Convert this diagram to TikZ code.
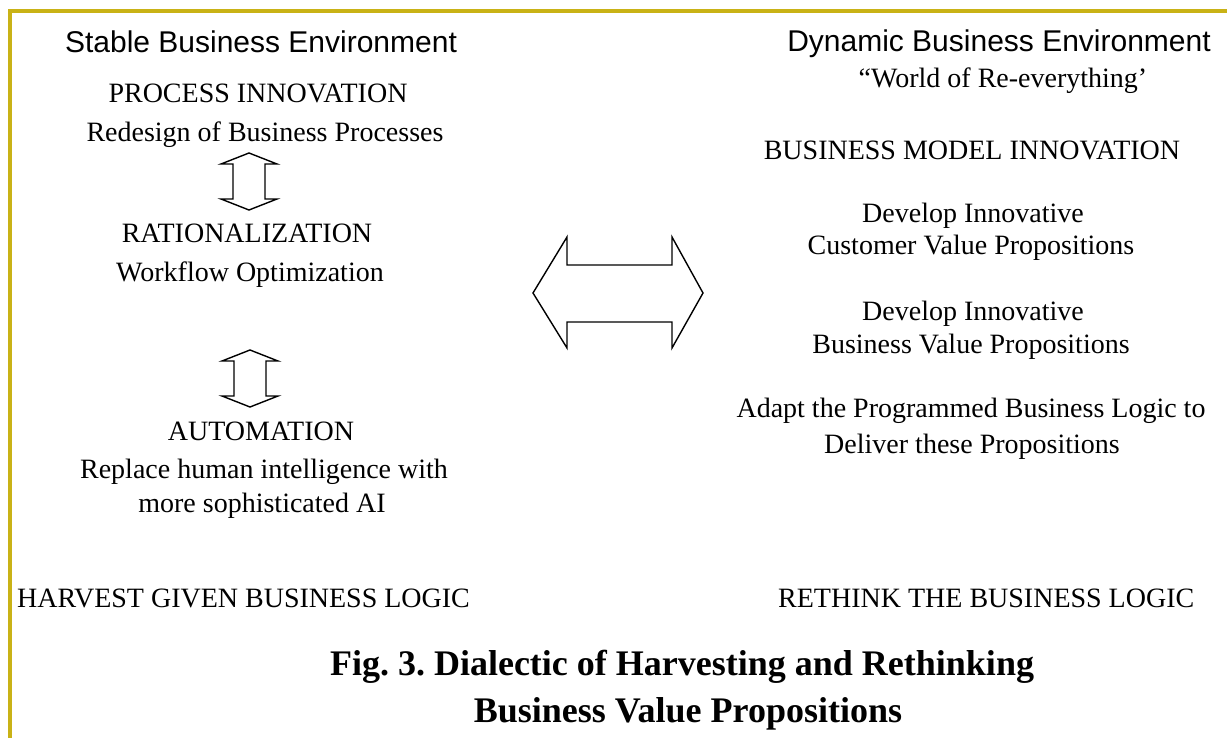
\documentclass[tikz,border=0pt]{standalone}
\usepackage{fontspec}
\setmainfont{Liberation Serif}
\newfontfamily\envfont{Liberation Sans}
\frenchspacing

\definecolor{framegold}{RGB}{201,178,22}

\begin{document}
\begin{tikzpicture}[x=1pt,y=-1pt,line join=miter,font=\fontsize{28}{32}\selectfont,
	every node/.style={inner sep=0pt,anchor=base},
	envtxt/.style={font=\envfont\fontsize{30}{34}\selectfont},
	captxt/.style={font=\bfseries\fontsize{36}{40}\selectfont},
	blockarrow/.style={draw,line width=1.4pt}]
	\useasboundingbox (0,0) rectangle (1227,738);
	\draw[framegold,line width=3.5pt] (10,738) -- (10,11) -- (1227,11);
	% left column
	\node[envtxt] (stable) at (261,53) {Stable Business Environment};
	\node (procinn) at (258,103) {PROCESS INNOVATION};
	\node (redesign) at (265,142) {Redesign of Business Processes};
	\node (ration) at (247,243) {RATIONALIZATION};
	\node (workflow) at (250,282) {Workflow Optimization};
	\node (autom) at (261,440) {AUTOMATION};
	\node (replace) at (264,478) {Replace human intelligence with};
	\node (moreai) at (262,512) {more sophisticated AI};
	\node[anchor=base west] (harvest) at (17,607) {HARVEST GIVEN BUSINESS LOGIC};
	% right column
	\node[envtxt] (dynamic) at (999,52) {Dynamic Business Environment};
	\node (world) at (1003,88) {“World of Re-everything’};
	\node (bmi) at (972,160) {BUSINESS MODEL INNOVATION};
	\node (dev1) at (973,223) {Develop Innovative};
	\node (custvp) at (971,255) {Customer Value Propositions};
	\node (dev2) at (973,320) {Develop Innovative};
	\node (busvp) at (971,353) {Business Value Propositions};
	\node (adapt) at (971,417) {Adapt the Programmed Business Logic to};
	\node (deliver) at (972,453) {Deliver these Propositions};
	\node[anchor=base west] (rethink) at (778,607) {RETHINK THE BUSINESS LOGIC};
	% caption
	\node[captxt] (capA) at (682,675) {Fig. 3. Dialectic of Harvesting and Rethinking};
	\node[captxt] (capB) at (688,722) {Business Value Propositions};
	% up-down arrows of the left column
	\foreach \n/\tx/\ty in {A/249/153,B/250/350}{
		\coordinate (ud\n) at (\tx,\ty);
		\draw[blockarrow] (ud\n) -- ++(28,11) -- ++(-12,0) -- ++(0,35) -- ++(12,0) -- ++(-28,11)
			-- ++(-28,-11) -- ++(12,0) -- ++(0,-35) -- ++(-12,0) -- cycle;
	}
	% big left-right arrow
	\coordinate (mainL) at (533,293);
	\draw[blockarrow] (mainL) -- ++(34,-56) -- ++(0,28) -- ++(105,0) -- ++(0,-28) -- ++(31,56)
		-- ++(-31,55) -- ++(0,-26) -- ++(-105,0) -- ++(0,26) -- cycle;
\end{tikzpicture}
\end{document}
